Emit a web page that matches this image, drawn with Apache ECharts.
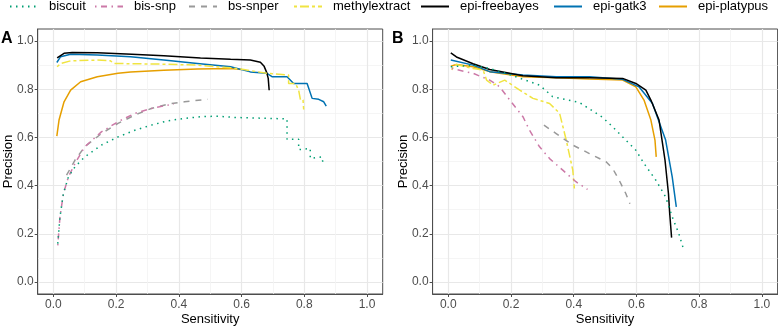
<!DOCTYPE html>
<html>
<head>
<meta charset="utf-8">
<script src="https://cdn.jsdelivr.net/npm/echarts@6/dist/echarts.min.js"></script>
<style>
  html, body { margin: 0; padding: 0; background: #fff; }
  #chart { width: 778px; height: 326px; }
</style>
</head>
<body>
<div id="chart"></div>
<script>
// methods, colours and line types
const methods = ['biscuit', 'bis-snp', 'bs-snper', 'methylextract', 'epi-freebayes', 'epi-gatk3', 'epi-platypus']
const colors = ['#009E73', '#CC79A7', '#999999', '#F0E442', '#000000', '#0072B2', '#E69F00']
const dashes = [[1.5, 4.5], [1.5, 4.5, 6, 4.5], [6, 6], [3, 3, 9, 3], 'solid', 'solid', 'solid']
const ticks = [0, 0.2, 0.4, 0.6, 0.8, 1.0]
const minorTicks = [0.1, 0.3, 0.5, 0.7, 0.9]

// panel A : [sensitivity, precision]
const aBiscuit = [[0.014, 0.159], [0.021, 0.27], [0.032, 0.367], [0.048, 0.436], [0.069, 0.478], [0.1, 0.519], [0.153, 0.568], [0.206, 0.602], [0.26, 0.63], [0.312, 0.651], [0.365, 0.669], [0.418, 0.679], [0.47, 0.686], [0.524, 0.688], [0.577, 0.683], [0.683, 0.679], [0.745, 0.677], [0.745, 0.592], [0.782, 0.592], [0.782, 0.549], [0.819, 0.554], [0.819, 0.513], [0.857, 0.519], [0.86, 0.485]]
const aBisSnp = [[0.014, 0.152], [0.021, 0.27], [0.032, 0.367], [0.048, 0.436], [0.069, 0.492], [0.1, 0.561], [0.153, 0.623], [0.206, 0.665], [0.26, 0.7], [0.312, 0.72], [0.365, 0.734], [0.384, 0.738]]
const aBsSnper = [[0.042, 0.443], [0.069, 0.506], [0.1, 0.561], [0.153, 0.616], [0.206, 0.658], [0.26, 0.693], [0.312, 0.72], [0.365, 0.738], [0.418, 0.748], [0.492, 0.758]]
const aMethyl = [[0.012, 0.893], [0.023, 0.907], [0.055, 0.918], [0.14, 0.921], [0.182, 0.918], [0.193, 0.907], [0.352, 0.904], [0.459, 0.9], [0.565, 0.889], [0.607, 0.882], [0.68, 0.866], [0.75, 0.859], [0.75, 0.824], [0.772, 0.824], [0.782, 0.796], [0.788, 0.755], [0.796, 0.755], [0.798, 0.716]]
const aFreebayes = [[0.012, 0.93], [0.034, 0.949], [0.06, 0.952], [0.14, 0.951], [0.25, 0.945], [0.352, 0.939], [0.469, 0.93], [0.565, 0.924], [0.628, 0.921], [0.66, 0.912], [0.672, 0.895], [0.68, 0.87], [0.685, 0.845], [0.688, 0.796]]
const aGatk3 = [[0.011, 0.911], [0.023, 0.935], [0.055, 0.945], [0.14, 0.942], [0.246, 0.935], [0.352, 0.921], [0.459, 0.907], [0.565, 0.893], [0.628, 0.872], [0.681, 0.866], [0.697, 0.852], [0.745, 0.852], [0.766, 0.824], [0.809, 0.824], [0.825, 0.762], [0.846, 0.758], [0.862, 0.748], [0.87, 0.73]]
const aPlatypus = [[0.011, 0.605], [0.018, 0.672], [0.034, 0.748], [0.055, 0.796], [0.087, 0.831], [0.14, 0.852], [0.206, 0.866], [0.246, 0.872], [0.352, 0.879], [0.459, 0.884], [0.565, 0.886], [0.6, 0.882]]

// panel B : [sensitivity, precision]
const bBiscuit = [[0.008, 0.893], [0.079, 0.9], [0.132, 0.886], [0.185, 0.866], [0.238, 0.841], [0.291, 0.817], [0.333, 0.769], [0.418, 0.745], [0.492, 0.683], [0.524, 0.644], [0.556, 0.602], [0.598, 0.547], [0.624, 0.492], [0.662, 0.422], [0.693, 0.353], [0.714, 0.27], [0.735, 0.201], [0.748, 0.145]]
const bBisSnp = [[0.011, 0.886], [0.079, 0.866], [0.132, 0.838], [0.164, 0.81], [0.196, 0.755], [0.238, 0.686], [0.259, 0.63], [0.291, 0.561], [0.323, 0.512], [0.365, 0.464], [0.407, 0.416], [0.444, 0.384]]
const bBsSnper = [[0.305, 0.651], [0.344, 0.616], [0.397, 0.568], [0.45, 0.533], [0.503, 0.499], [0.524, 0.471], [0.545, 0.422], [0.566, 0.367], [0.579, 0.325]]
const bMethyl = [[0.011, 0.88], [0.016, 0.893], [0.026, 0.903], [0.079, 0.886], [0.111, 0.88], [0.122, 0.838], [0.143, 0.817], [0.18, 0.838], [0.228, 0.796], [0.27, 0.762], [0.323, 0.741], [0.355, 0.7], [0.376, 0.589], [0.397, 0.464], [0.402, 0.388]]
const bFreebayes = [[0.008, 0.951], [0.026, 0.934], [0.079, 0.906], [0.132, 0.882], [0.238, 0.856], [0.344, 0.848], [0.45, 0.848], [0.556, 0.845], [0.598, 0.824], [0.63, 0.796], [0.646, 0.755], [0.672, 0.672], [0.691, 0.506], [0.702, 0.367], [0.706, 0.284], [0.712, 0.277], [0.712, 0.184]]
const bGatk3 = [[0.008, 0.921], [0.079, 0.9], [0.132, 0.873], [0.238, 0.859], [0.344, 0.852], [0.45, 0.852], [0.556, 0.841], [0.608, 0.81], [0.651, 0.741], [0.693, 0.589], [0.714, 0.436], [0.727, 0.312]]
const bPlatypus = [[0.008, 0.896], [0.026, 0.903], [0.079, 0.893], [0.132, 0.873], [0.238, 0.852], [0.344, 0.848], [0.45, 0.842], [0.556, 0.838], [0.598, 0.81], [0.624, 0.755], [0.646, 0.672], [0.659, 0.589], [0.663, 0.519]]

const panelA = [aBiscuit, aBisSnp, aBsSnper, aMethyl, aFreebayes, aGatk3, aPlatypus]
const panelB = [bBiscuit, bBisSnp, bBsSnper, bMethyl, bFreebayes, bGatk3, bPlatypus]

const chart = echarts.init(document.getElementById('chart'))

const font = 'Liberation Sans, Arial, Helvetica, sans-serif'

function makeAxis(gridIndex, isX, minor) {
  const ax = {
    type: 'value',
    gridIndex: gridIndex,
    min: -0.05,
    max: 1.05,
    axisLine: { show: !minor, onZero: false, lineStyle: { color: '#4d4d4d', width: 1 } },
    axisTick: { show: !minor, length: 3, customValues: minor ? minorTicks : ticks, lineStyle: { color: '#4d4d4d' } },
    axisLabel: {
      show: !minor,
      customValues: ticks,
      formatter: v => v.toFixed(1),
      color: '#4d4d4d',
      fontSize: 12,
      fontFamily: font,
      margin: isX ? 5 : 4
    },
    splitLine: { show: true, lineStyle: { color: minor ? '#f3f3f3' : '#e8e8e8', width: minor ? 0.8 : 1.2 } }
  }
  if (!minor) {
    ax.name = isX ? 'Sensitivity' : 'Precision'
    ax.nameLocation = 'middle'
    ax.nameGap = isX ? 19 : 23
    ax.nameMoveOverlap = false
    ax.nameTextStyle = { color: '#000', fontSize: 13, fontFamily: font }
  }
  return ax
}

const series = []
methods.forEach((m, i) => {
  ;[panelA, panelB].forEach((panel, p) => {
    series.push({
      name: m,
      type: 'line',
      xAxisIndex: p * 2,
      yAxisIndex: p * 2,
      data: panel[i],
      symbol: 'none',
      z: 10 - i,
      lineStyle: { color: colors[i], width: 1.5, type: dashes[i] },
      itemStyle: { color: colors[i] },
      animation: false
    })
  })
})

const legendLeft = [9, 94, 188, 293, 420, 553, 658]
const legends = methods.map((m, i) => ({
  data: [m],
  left: legendLeft[i],
  top: 0,
  padding: 0,
  itemWidth: 28,
  itemHeight: 12,
  itemStyle: { opacity: 0 },
  textStyle: { fontSize: 13, color: '#000', fontFamily: font, padding: [0, 0, 0, 6] }
}))

const option = {
  animation: false,
  legend: legends,
  grid: [
    { left: 37.7, top: 29, width: 345, height: 265, outerBoundsMode: 'none', containLabel: false, show: true, borderColor: '#4d4d4d', borderWidth: 1, backgroundColor: 'transparent' },
    { left: 432.6, top: 29, width: 345, height: 265, outerBoundsMode: 'none', containLabel: false, show: true, borderColor: '#4d4d4d', borderWidth: 1, backgroundColor: 'transparent' }
  ],
  xAxis: [makeAxis(0, true, false), makeAxis(0, true, true), makeAxis(1, true, false), makeAxis(1, true, true)],
  yAxis: [makeAxis(0, false, false), makeAxis(0, false, true), makeAxis(1, false, false), makeAxis(1, false, true)],
  graphic: [
    { type: 'text', left: 1, top: 31, style: { text: 'A', font: 'bold 16px ' + font, fill: '#000' } },
    { type: 'text', left: 392, top: 31, style: { text: 'B', font: 'bold 16px ' + font, fill: '#000' } }
  ],
  series: series
}

chart.setOption(option)
</script>
</body>
</html>
